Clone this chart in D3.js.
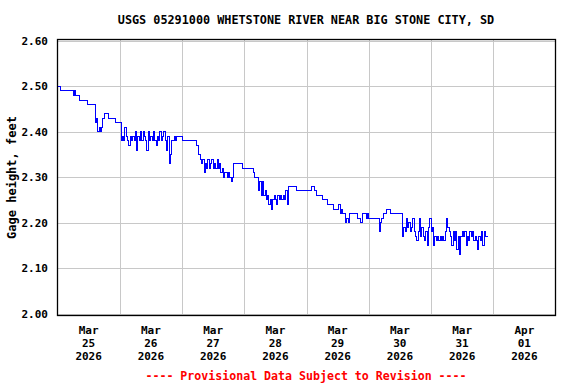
<!DOCTYPE html>
<html>
<head>
<meta charset="utf-8">
<script src="https://cdn.jsdelivr.net/npm/d3@7"></script>
<style>
body { margin: 0; background: #fff; }
text { font-family: "DejaVu Sans Mono", monospace; font-weight: bold; }
</style>
</head>
<body>
<svg width="576" height="384"></svg>
<script>
var title = "USGS 05291000 WHETSTONE RIVER NEAR BIG STONE CITY, SD";
var yTitle = "Gage height, feet";
var note = "---- Provisional Data Subject to Revision ----";

var yTicks = [2.00, 2.10, 2.20, 2.30, 2.40, 2.50, 2.60];
var dayMonths = ["Mar", "Mar", "Mar", "Mar", "Mar", "Mar", "Mar", "Apr"];
var dayNums = ["25", "26", "27", "28", "29", "30", "31", "01"];
var dayYears = ["2026", "2026", "2026", "2026", "2026", "2026", "2026", "2026"];

// gage height, feet, every 30 minutes starting at midnight of each day
var mar25 = [2.50,2.50,2.49,2.49,2.49,2.49,2.49,2.49,2.49,2.49,2.49,2.49,
  2.48,2.49,2.48,2.48,2.48,2.47,2.47,2.47,2.47,2.47,2.47,2.46,
  2.46,2.46,2.46,2.46,2.46,2.42,2.43,2.40,2.41,2.40,2.41,2.43,
  2.44,2.44,2.44,2.43,2.43,2.43,2.43,2.43,2.43,2.42,2.42,2.42];
var mar26 = [2.42,2.38,2.39,2.38,2.41,2.39,2.38,2.37,2.39,2.38,2.39,2.38,
  2.40,2.36,2.39,2.38,2.40,2.38,2.40,2.39,2.38,2.36,2.40,2.38,
  2.39,2.38,2.40,2.38,2.37,2.39,2.38,2.40,2.38,2.39,2.40,2.38,
  2.36,2.39,2.33,2.35,2.38,2.38,2.39,2.38,2.39,2.39,2.39,2.39];
var mar27 = [2.38,2.38,2.38,2.38,2.38,2.38,2.38,2.38,2.38,2.38,2.38,2.37,
  2.37,2.35,2.34,2.33,2.34,2.31,2.33,2.32,2.34,2.32,2.33,2.34,
  2.32,2.33,2.32,2.34,2.32,2.33,2.31,2.32,2.30,2.31,2.31,2.30,
  2.31,2.30,2.29,2.30,2.33,2.33,2.33,2.33,2.33,2.33,2.33,2.32];
var mar28 = [2.32,2.32,2.32,2.32,2.32,2.32,2.32,2.31,2.30,2.30,2.30,2.27,
  2.29,2.26,2.29,2.26,2.27,2.25,2.26,2.24,2.25,2.23,2.25,2.26,
  2.25,2.24,2.26,2.25,2.26,2.25,2.26,2.25,2.27,2.24,2.28,2.28,
  2.28,2.28,2.28,2.28,2.27,2.27,2.27,2.27,2.27,2.27,2.27,2.27];
var mar29 = [2.27,2.27,2.27,2.27,2.28,2.28,2.27,2.27,2.26,2.26,2.26,2.26,
  2.25,2.25,2.25,2.25,2.24,2.24,2.24,2.24,2.24,2.23,2.23,2.23,
  2.23,2.24,2.22,2.23,2.22,2.22,2.20,2.21,2.20,2.22,2.22,2.22,
  2.22,2.22,2.22,2.21,2.21,2.21,2.20,2.22,2.22,2.22,2.21,2.22];
var mar30 = [2.21,2.21,2.21,2.21,2.21,2.21,2.21,2.21,2.18,2.20,2.21,2.22,
  2.22,2.22,2.23,2.23,2.23,2.22,2.22,2.22,2.22,2.22,2.22,2.22,
  2.22,2.22,2.17,2.19,2.18,2.21,2.19,2.20,2.18,2.19,2.21,2.18,
  2.17,2.16,2.18,2.21,2.17,2.19,2.17,2.16,2.18,2.15,2.19,2.21];
var mar31 = [2.18,2.19,2.15,2.17,2.16,2.17,2.16,2.17,2.16,2.17,2.16,2.18,
  2.21,2.19,2.18,2.17,2.15,2.18,2.16,2.18,2.14,2.17,2.13,2.17,
  2.18,2.17,2.18,2.15,2.17,2.16,2.18,2.17,2.18,2.16,2.17,2.16,
  2.14,2.17,2.16,2.18,2.15,2.18,2.17,2.17,2.17];

var days = [mar25, mar26, mar27, mar28, mar29, mar30, mar31];
var start = Date.UTC(2026, 2, 25);
var dayMs = 864e5;

var series = [];
days.forEach(function(vals, d) {
  vals.forEach(function(v, i) {
    series.push({t: new Date(start + d * dayMs + i * 18e5), v: v});
  });
});

var svg = d3.select("svg");
var plotL = 57.5, plotR = 555.5, plotT = 39.5, plotB = 315.5;

var x = d3.scaleUtc()
  .domain([new Date(start), new Date(start + 8 * dayMs)])
  .range([plotL, plotR]);
var y = d3.scaleLinear().domain([2.0, 2.6]).range([313.5, 41]);

var dayStarts = d3.range(1, 8).map(function(d) { return new Date(start + d * dayMs); });
var noons = d3.range(8).map(function(d) { return new Date(start + d * dayMs + dayMs / 2); });

// grid
svg.append("g").selectAll("line").data(yTicks).enter().append("line")
  .attr("x1", plotL).attr("x2", plotR)
  .attr("y1", function(d) { return Math.round(y(d)) + 0.5; })
  .attr("y2", function(d) { return Math.round(y(d)) + 0.5; })
  .style("stroke", "#c8c8c8").style("stroke-width", "1px");
svg.append("g").selectAll("line").data(dayStarts).enter().append("line")
  .attr("y1", plotT).attr("y2", plotB)
  .attr("x1", function(d) { return Math.round(x(d)) + 0.5; })
  .attr("x2", function(d) { return Math.round(x(d)) + 0.5; })
  .style("stroke", "#c8c8c8").style("stroke-width", "1px");

// data line
var line = d3.line()
  .x(function(d) { return x(d.t); })
  .y(function(d) { return y(d.v); })
  .curve(d3.curveStepAfter);
svg.append("path").datum(series)
  .attr("d", line)
  .attr("shape-rendering", "crispEdges")
  .style("fill", "none")
  .style("stroke", "#0000ff")
  .style("stroke-width", "1px");

// frame
svg.append("rect")
  .attr("x", plotL).attr("y", plotT)
  .attr("width", plotR - plotL).attr("height", plotB - plotT)
  .style("fill", "none").style("stroke", "#000").style("stroke-width", "1.3px");

// y labels
svg.append("g").selectAll("text").data(yTicks).enter().append("text")
  .attr("x", 48).attr("y", function(d) { return y(d) + 4; })
  .attr("text-anchor", "end")
  .style("font-size", "11px")
  .text(function(d) { return d.toFixed(2); });

// x labels
var xl = svg.append("g").selectAll("text").data(noons).enter().append("text")
  .attr("text-anchor", "middle")
  .style("font-size", "11px");
xl.append("tspan").attr("x", function(d) { return x(d); }).attr("y", 334)
  .text(function(d, i) { return dayMonths[i]; });
xl.append("tspan").attr("x", function(d) { return x(d); }).attr("y", 347)
  .text(function(d, i) { return dayNums[i]; });
xl.append("tspan").attr("x", function(d) { return x(d); }).attr("y", 360)
  .text(function(d, i) { return dayYears[i]; });

svg.append("text")
  .attr("x", 306).attr("y", 24)
  .attr("text-anchor", "middle")
  .style("font-size", "11.8px")
  .text(title);

svg.append("text")
  .attr("transform", "translate(16," + ((plotT + plotB) / 2) + ") rotate(-90)")
  .attr("text-anchor", "middle")
  .style("font-size", "12px")
  .text(yTitle);

svg.append("text")
  .attr("x", 306).attr("y", 379.5)
  .attr("text-anchor", "middle")
  .style("font-size", "11.6px")
  .style("fill", "#ff0000")
  .text(note);
</script>
</body>
</html>
